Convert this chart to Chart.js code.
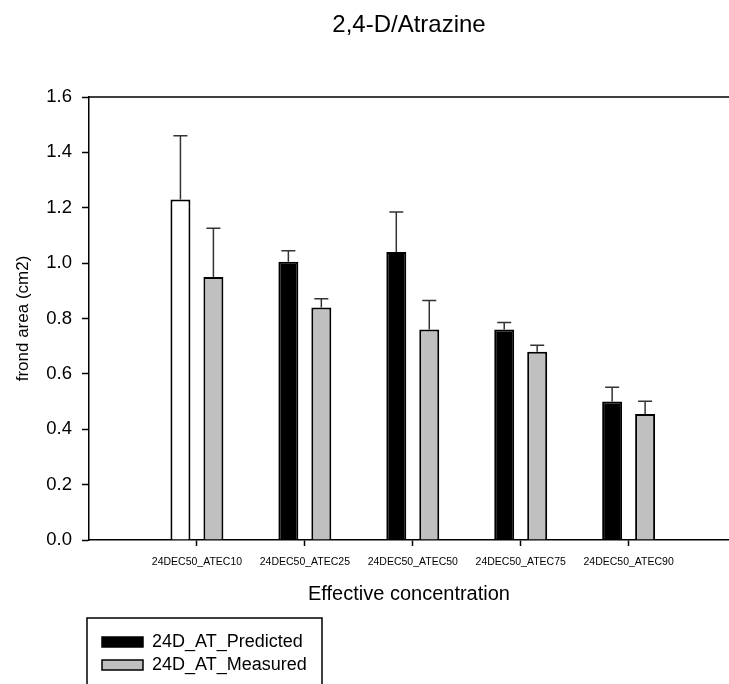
<!DOCTYPE html>
<html>
<head>
<meta charset="utf-8">
<title>2,4-D/Atrazine</title>
<script src="https://cdn.jsdelivr.net/npm/chart.js@4/dist/chart.umd.min.js"></script>
<style>
  html, body { margin: 0; padding: 0; background: #fff; }
  canvas { display: block; }
</style>
</head>
<body>
<canvas id="frondChart" width="729" height="684"></canvas>
<script>
const categories = ['24DEC50_ATEC10', '24DEC50_ATEC25', '24DEC50_ATEC50', '24DEC50_ATEC75', '24DEC50_ATEC90'];

// mean frond area (cm2) and the standard error drawn above each bar
const predicted    = [1.23, 1.005, 1.04, 0.76, 0.50];
const predictedErr = [0.23, 0.04, 0.145, 0.026, 0.052];
const measured     = [0.95, 0.84, 0.76, 0.68, 0.455];
const measuredErr  = [0.176, 0.031, 0.105, 0.023, 0.046];

const yTicks = [0, 0.2, 0.4, 0.6, 0.8, 1.0, 1.2, 1.4, 1.6];

// first predicted bar has no model value behind it, so it's left open
const predictedFill = ['#ffffff', '#000000', '#000000', '#000000', '#000000'];

const fontFamily = 'Arial, "Liberation Sans", Helvetica, sans-serif';
Chart.defaults.font.family = fontFamily;
Chart.defaults.color = '#000';

// x positions 1..5 on a linear axis so the axis can run past the groups
const toPoints = (vals) => vals.map((v, i) => ({ x: i + 1, y: v }));

// Up-only error whiskers with a cap
const errorBars = {
    id: 'errorBars',
    afterDatasetsDraw(chart) {
        const { ctx, scales: { y } } = chart;
        ctx.save();
        ctx.strokeStyle = '#333';
        ctx.lineWidth = 1.5;
        chart.data.datasets.forEach((ds, di) => {
            const meta = chart.getDatasetMeta(di);
            meta.data.forEach((bar, i) => {
                const top = y.getPixelForValue(ds.data[i].y + ds.errors[i]);
                ctx.beginPath();
                ctx.moveTo(bar.x, bar.y);
                ctx.lineTo(bar.x, top);
                ctx.moveTo(bar.x - 7, top);
                ctx.lineTo(bar.x + 7, top);
                ctx.stroke();
            });
        });
        ctx.restore();
    }
};

// Top frame line across the plot
const topFrame = {
    id: 'topFrame',
    afterDraw(chart) {
        const { ctx, chartArea: a } = chart;
        ctx.save();
        ctx.strokeStyle = '#000';
        ctx.lineWidth = 1.5;
        ctx.beginPath();
        ctx.moveTo(a.left, a.top);
        ctx.lineTo(a.right, a.top);
        ctx.stroke();
        ctx.restore();
    }
};

// Boxed legend in the lower-left corner
const boxLegend = {
    id: 'boxLegend',
    afterDraw(chart) {
        const { ctx } = chart;
        ctx.save();
        ctx.strokeStyle = '#000';
        ctx.lineWidth = 1.5;
        ctx.strokeRect(87, 618, 235, 80);
        ctx.font = '18px ' + fontFamily;
        ctx.textBaseline = 'middle';
        chart.data.datasets.forEach((ds, i) => {
            const yy = 637 + i * 23;
            ctx.fillStyle = ds.legendColor;
            ctx.fillRect(102, yy, 41, 10);
            ctx.strokeRect(102, yy, 41, 10);
            ctx.fillStyle = '#000';
            ctx.fillText(ds.label, 152, yy + 5);
        });
        ctx.restore();
    }
};

new Chart(document.getElementById('frondChart'), {
    type: 'bar',
    data: {
        datasets: [
            {
                label: '24D_AT_Predicted',
                data: toPoints(predicted),
                errors: predictedErr,
                backgroundColor: predictedFill,
                legendColor: '#000000',
                borderColor: '#000',
                borderWidth: 2
            },
            {
                label: '24D_AT_Measured',
                data: toPoints(measured),
                errors: measuredErr,
                backgroundColor: '#c0c0c0',
                legendColor: '#c0c0c0',
                borderColor: '#000',
                borderWidth: 2
            }
        ]
    },
    options: {
        responsive: false,
        animation: false,
        categoryPercentage: 0.611,
        barPercentage: 0.606,
        layout: { padding: 0 },
        plugins: {
            legend: { display: false },
            tooltip: { enabled: false },
            title: {
                display: true,
                fullSize: false,
                text: '2,4-D/Atrazine',
                font: { size: 24, weight: 'normal' },
                padding: { top: 11, bottom: 57.2 }
            }
        },
        scales: {
            x: {
                type: 'linear',
                offset: false,
                min: 0,
                max: 5.93,
                afterFit: (scale) => { scale.height = 144; },
                afterBuildTicks: (scale) => {
                    scale.ticks = categories.map((c, i) => ({ value: i + 1 }));
                },
                ticks: {
                    autoSkip: false,
                    maxRotation: 0,
                    padding: 10,
                    font: { size: 10.5 },
                    callback: (value) => categories[value - 1]
                },
                grid: {
                    display: true,
                    offset: false,
                    drawOnChartArea: false,
                    drawTicks: true,
                    tickLength: 6,
                    tickWidth: 1.5,
                    color: '#000'
                },
                border: { display: true, color: '#000', width: 1.5 },
                title: {
                    display: true,
                    text: 'Effective concentration',
                    font: { size: 20 },
                    padding: { top: 0, bottom: 78 }
                }
            },
            y: {
                min: 0,
                max: 1.6,
                afterFit: (scale) => { scale.width = 89; },
                afterBuildTicks: (scale) => {
                    scale.ticks = yTicks.map(v => ({ value: v }));
                },
                ticks: {
                    padding: 10,
                    font: { size: 18.5 },
                    callback: (value) => value.toFixed(1)
                },
                grid: {
                    display: true,
                    drawOnChartArea: false,
                    drawTicks: true,
                    tickLength: 7,
                    tickWidth: 1.5,
                    color: '#000'
                },
                border: { display: true, color: '#000', width: 1.5 },
                title: {
                    display: true,
                    text: 'frond area (cm2)',
                    font: { size: 17 },
                    padding: { top: 13, bottom: 0 }
                }
            }
        }
    },
    plugins: [errorBars, topFrame, boxLegend]
});
</script>
</body>
</html>
